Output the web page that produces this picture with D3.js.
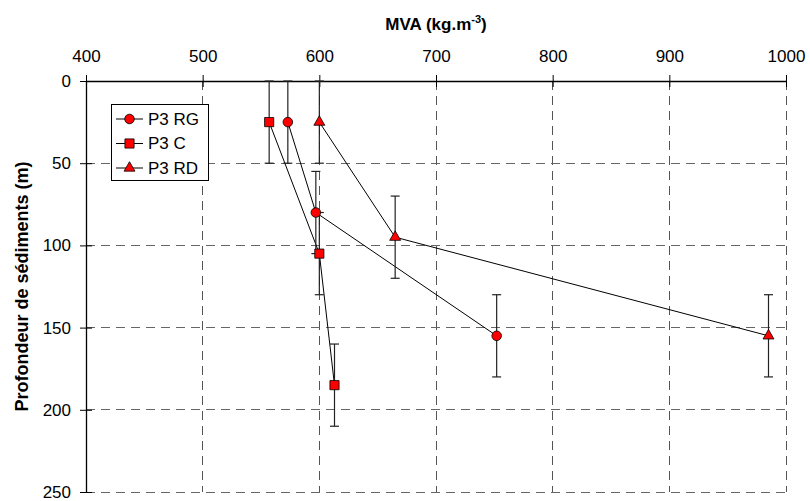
<!DOCTYPE html>
<html>
<head>
<meta charset="utf-8">
<script src="https://cdn.jsdelivr.net/npm/d3@7"></script>
<style>
  html, body { margin: 0; padding: 0; background: #fff; }
  svg { display: block; font-family: "Liberation Sans", Arial, sans-serif; }
</style>
</head>
<body>
<svg id="chart" width="810" height="501"></svg>
<script>
// ---- data ----
const xTicks = [400, 500, 600, 700, 800, 900, 1000];
const yTicks = [0, 50, 100, 150, 200, 250];
const seriesNames = ["P3 RG", "P3 C", "P3 RD"];
const rgMVA = [573, 597, 752];
const rgDepth = [25, 80, 155];
const rgErr = [25, 25, 25];
const cMVA = [557, 600, 613];
const cDepth = [25, 105, 185];
const cErr = [25, 25, 25];
const rdMVA = [600, 665, 985];
const rdDepth = [25, 95, 155];
const rdErr = [25, 25, 25];

const series = [
  { name: seriesNames[0], sym: d3.symbolCircle, size: 72, x: rgMVA, y: rgDepth, e: rgErr },
  { name: seriesNames[1], sym: d3.symbolSquare, size: 84, x: cMVA, y: cDepth, e: cErr },
  { name: seriesNames[2], sym: d3.symbolTriangle, size: 52, x: rdMVA, y: rdDepth, e: rdErr }
];

const svg = d3.select("#chart");
const L = 86, R = 786, T = 81, B = 492;
const x = d3.scaleLinear().domain([400, 1000]).range([L, R]);
const y = d3.scaleLinear().domain([0, 250]).range([T, B]);
const FS = 17;

// grid
const grid = svg.append("g");
grid.selectAll("line.v").data(xTicks.slice(1)).enter().append("line")
  .attr("x1", d => x(d)).attr("x2", d => x(d)).attr("y1", T).attr("y2", B)
  .attr("stroke", "#555").attr("stroke-width", 1).attr("stroke-dasharray", "9,6")
  .attr("shape-rendering", "crispEdges");
grid.selectAll("line.h").data(yTicks.slice(1)).enter().append("line")
  .attr("x1", L).attr("x2", R).attr("y1", d => y(d)).attr("y2", d => y(d))
  .attr("stroke", "#666").attr("stroke-width", 1).attr("stroke-dasharray", "9,6")
  .attr("shape-rendering", "crispEdges");

// axes
const xAxis = svg.append("g").attr("transform", `translate(0,${T})`)
  .call(d3.axisTop(x).tickValues(xTicks).tickFormat(d3.format("d"))
    .tickSize(6).tickPadding(13).tickSizeOuter(0));
xAxis.selectAll(".tick line").attr("y1", 6).attr("y2", -6);
const yAxis = svg.append("g").attr("transform", `translate(${L},0)`)
  .call(d3.axisLeft(y).tickValues(yTicks).tickFormat(d3.format("d"))
    .tickSize(6).tickPadding(9).tickSizeOuter(0));
yAxis.selectAll(".tick line").attr("x1", 6).attr("x2", -6);
[xAxis, yAxis].forEach(a => {
  a.select(".domain").attr("stroke", "#000").attr("stroke-width", 1.3);
  a.selectAll(".tick line").attr("stroke", "#000");
  a.selectAll("text").attr("font-size", FS).attr("fill", "#000")
    .attr("font-family", "'Liberation Sans', Arial, sans-serif");
});

// titles
const xt = svg.append("text").attr("x", (L + R) / 2).attr("y", 30)
  .attr("text-anchor", "middle").attr("font-weight", "bold").attr("font-size", FS);
xt.append("tspan").text("MVA (kg.m");
xt.append("tspan").attr("dy", -7).attr("font-size", 11).text("-3");
xt.append("tspan").attr("dy", 7).text(")");
svg.append("text").attr("transform", `translate(28,${(T + B) / 2}) rotate(-90)`)
  .attr("text-anchor", "middle").attr("font-weight", "bold").attr("font-size", 18)
  .text("Profondeur de sédiments (m)");

// lines
const line = d3.line().x(d => x(d[0])).y(d => y(d[1]));
series.forEach(s => {
  const pts = s.x.map((v, i) => [v, s.y[i]]);
  svg.append("path").datum(pts).attr("d", line)
    .attr("fill", "none").attr("stroke", "#000").attr("stroke-width", 1);
});

// error bars
series.forEach(s => {
  s.x.forEach((v, i) => {
    const lo = Math.max(0, s.y[i] - s.e[i]);
    const hi = Math.min(250, s.y[i] + s.e[i]);
    const g = svg.append("g").attr("stroke", "#222").attr("stroke-width", 1.2);
    g.append("line").attr("x1", x(v)).attr("x2", x(v)).attr("y1", y(lo)).attr("y2", y(hi));
    if (s.y[i] - s.e[i] >= 0)
      g.append("line").attr("x1", x(v) - 4.5).attr("x2", x(v) + 4.5).attr("y1", y(lo)).attr("y2", y(lo));
    g.append("line").attr("x1", x(v) - 4.5).attr("x2", x(v) + 4.5).attr("y1", y(hi)).attr("y2", y(hi));
  });
});

// markers
series.forEach(s => {
  const sym = d3.symbol().type(s.sym).size(s.size);
  s.x.forEach((v, i) => {
    svg.append("path").attr("d", sym())
      .attr("transform", `translate(${x(v)},${y(s.y[i])})`)
      .attr("fill", "#ff0000").attr("stroke", "#000").attr("stroke-width", 0.8);
  });
});

// legend
const lg = svg.append("g");
lg.append("rect").attr("x", 111.5).attr("y", 104.5).attr("width", 97).attr("height", 76)
  .attr("fill", "#fff").attr("stroke", "#000").attr("stroke-width", 1);
series.forEach((s, i) => {
  const cy = 119 + i * 24.5;
  lg.append("line").attr("x1", 116).attr("x2", 143).attr("y1", cy).attr("y2", cy)
    .attr("stroke", "#000").attr("stroke-width", 1);
  lg.append("path").attr("d", d3.symbol().type(s.sym).size(s.size)())
    .attr("transform", `translate(129.5,${cy})`)
    .attr("fill", "#ff0000").attr("stroke", "#000").attr("stroke-width", 0.8);
  lg.append("text").attr("x", 148).attr("y", cy).attr("dy", "0.35em")
    .attr("font-size", FS).text(s.name);
});
</script>
</body>
</html>
